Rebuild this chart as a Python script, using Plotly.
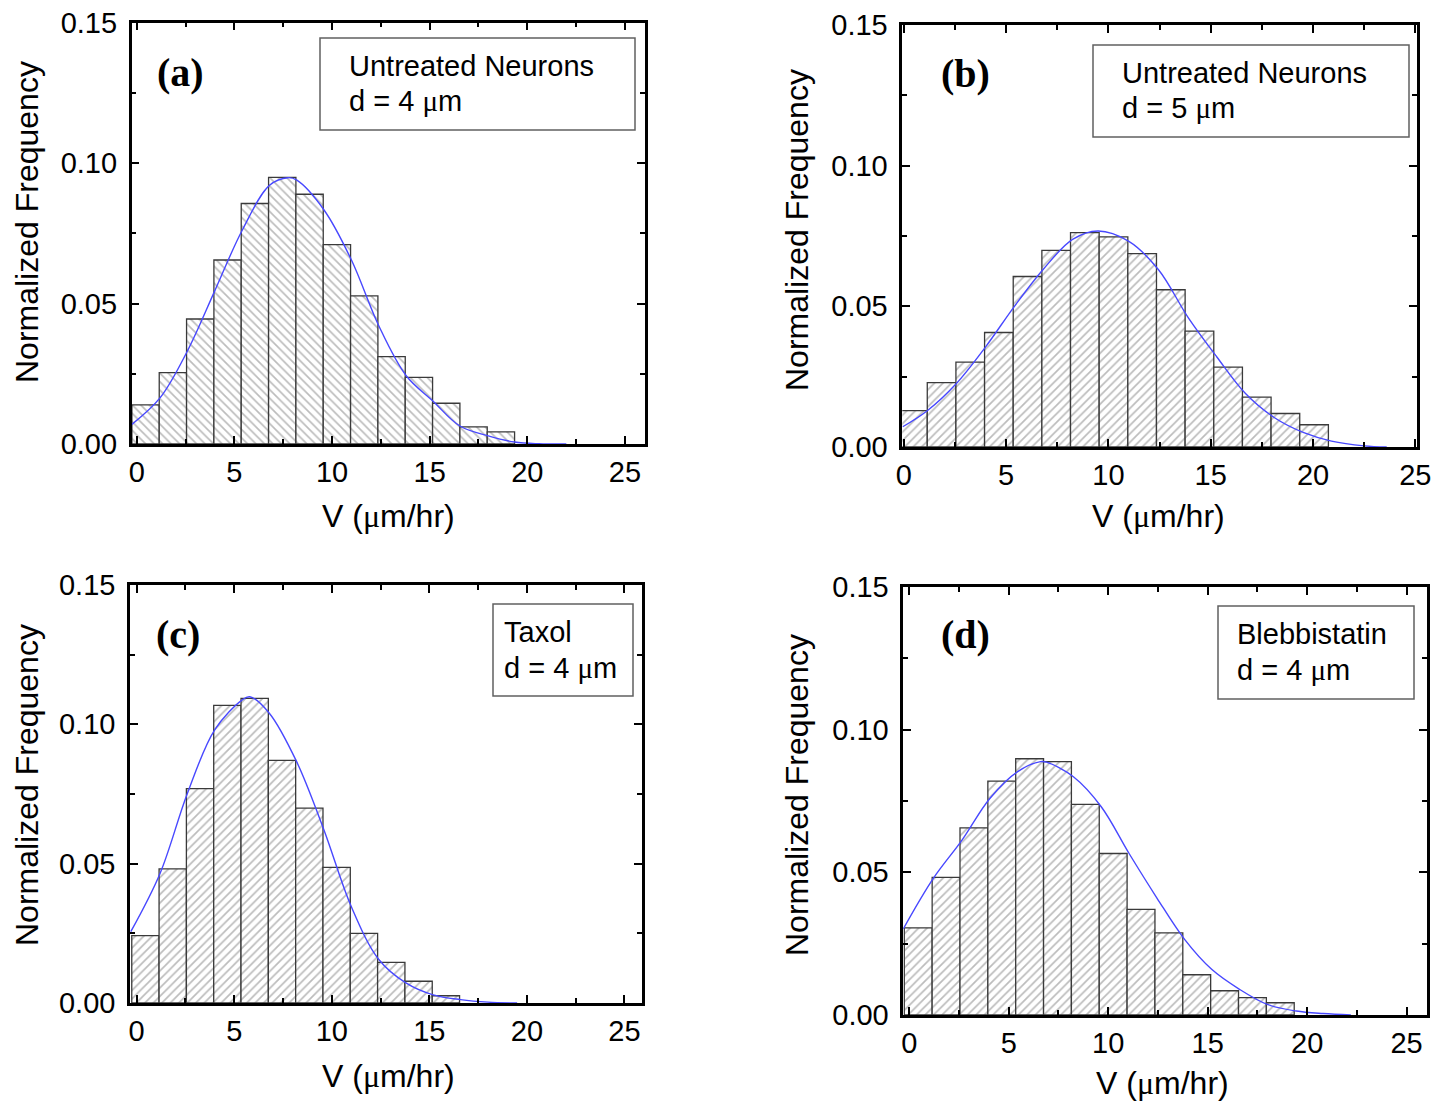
import plotly.graph_objects as go

W, H = 1449, 1101

# ---------------- data ----------------
bin_centers = [0.45, 1.85, 3.25, 4.65, 6.05, 7.45, 8.85, 10.25, 11.65, 13.05, 14.45, 15.85, 17.25, 18.65, 20.05]
bin_width = 1.4

freq_a = [0.0139, 0.0254, 0.0445, 0.0655, 0.0856, 0.0949, 0.0889, 0.0710, 0.0527, 0.0311, 0.0237, 0.0145, 0.0061, 0.0043]
freq_b = [0.0129, 0.0229, 0.0302, 0.0407, 0.0606, 0.0699, 0.0762, 0.0747, 0.0687, 0.0559, 0.0412, 0.0284, 0.0177, 0.0119, 0.0079]
freq_c = [0.0242, 0.0481, 0.0769, 0.1068, 0.1093, 0.0871, 0.0699, 0.0487, 0.0250, 0.0146, 0.0078, 0.0026]
freq_d = [0.0305, 0.0482, 0.0656, 0.0820, 0.0898, 0.0888, 0.0738, 0.0566, 0.0370, 0.0288, 0.0141, 0.0085, 0.0061, 0.0043]

fit_a_x = [-0.25, 1.2, 2.6, 4.0, 5.4, 6.8, 7.75, 8.2, 9.6, 11.0, 12.4, 13.8, 15.15, 16.55, 18.0, 19.35, 20.6, 22.0]
fit_a_y = [0.0070, 0.0165, 0.0332, 0.0546, 0.0761, 0.0921, 0.0948, 0.0939, 0.0832, 0.0654, 0.0420, 0.0243, 0.0154, 0.0064, 0.0029, 0.0007, 0.0001, 0.0]

fit_b_x = [-0.05, 1.15, 2.55, 4.0, 5.4, 6.8, 8.25, 9.5, 11.0, 12.45, 13.9, 15.3, 16.7, 18.1, 19.55, 20.9, 22.5, 23.6]
fit_b_y = [0.0072, 0.0129, 0.0224, 0.0356, 0.0499, 0.0630, 0.0738, 0.0768, 0.0731, 0.0630, 0.0460, 0.0320, 0.0190, 0.0105, 0.0051, 0.0021, 0.0004, 0.0]

fit_c_x = [-0.3, 1.2, 2.6, 4.0, 5.4, 5.8, 6.8, 8.2, 9.6, 11.0, 12.4, 13.8, 15.2, 16.6, 18.0, 19.5]
fit_c_y = [0.0256, 0.0465, 0.0752, 0.0980, 0.1087, 0.1099, 0.1040, 0.0866, 0.0621, 0.0346, 0.0157, 0.0072, 0.0029, 0.0012, 0.0003, 0.0]

fit_d_x = [-0.3, 1.2, 2.65, 4.05, 5.45, 6.6, 6.9, 8.25, 9.65, 11.05, 12.45, 13.85, 15.2, 16.6, 18.0, 19.45, 20.8, 22.2]
fit_d_y = [0.0302, 0.0478, 0.0613, 0.0759, 0.0853, 0.0888, 0.0886, 0.0835, 0.0730, 0.0566, 0.0410, 0.0264, 0.0160, 0.0090, 0.0037, 0.0014, 0.0005, 0.0]

panel_labels = ["(a)", "(b)", "(c)", "(d)"]
legend_line1 = ["Untreated Neurons", "Untreated Neurons", "Taxol", "Blebbistatin"]
legend_line2 = ["d = 4 μm", "d = 5 μm", "d = 4 μm", "d = 4 μm"]
x_title = "V (μm/hr)"
y_title = "Normalized Frequency"

# ---------------- layout geometry (pixels) ----------------
panels = [
    dict(freq=freq_a, fx=fit_a_x, fy=fit_a_y, hatch="\\", xpx=(131.7, 645), ypx=(22.6, 444), xr=[-0.26, 26.03],
         box=(320, 38, 635, 130), txt=(347, 66, 101), lab=(180, 73), yt=(27, 222), xt=(388, 516)),
    dict(freq=freq_b, fx=fit_b_x, fy=fit_b_y, hatch="/", xpx=(902.3, 1417), ypx=(25, 447), xr=[-0.07, 25.08],
         box=(1093, 45, 1409, 137), txt=(1120, 73, 108), lab=(965, 74), yt=(797, 230), xt=(1158, 516)),
    dict(freq=freq_c, fx=fit_c_x, fy=fit_c_y, hatch="/", xpx=(130, 642), ypx=(585, 1003), xr=[-0.34, 25.9],
         box=(493, 604, 633, 696), txt=(502, 632, 668), lab=(178, 634), yt=(27, 785), xt=(388, 1076)),
    dict(freq=freq_d, fx=fit_d_x, fy=fit_d_y, hatch="/", xpx=(903.3, 1426.5), ypx=(587, 1015), xr=[-0.3, 26.0],
         box=(1218, 606, 1414, 699), txt=(1235, 634, 670), lab=(965, 634), yt=(797, 795), xt=(1162, 1083)),
]

def px(x):
    return x / W

def py(y):
    return 1 - y / H

FONT = "Liberation Sans, Arial, sans-serif"
mu_span = '<span style="font-family:Liberation Serif">μ</span>'

fig = go.Figure()
layout = dict(
    width=W, height=H, margin=dict(l=0, r=0, t=0, b=0, pad=0, autoexpand=False),
    paper_bgcolor="white", plot_bgcolor="white", showlegend=False,
    font=dict(family=FONT, color="black"),
)
annotations = []
shapes = []

for i, p in enumerate(panels):
    k = "" if i == 0 else str(i + 1)
    xa, ya = "x" + k, "y" + k
    n = len(p["freq"])
    fig.add_trace(go.Bar(
        x=bin_centers[:n], y=p["freq"], width=bin_width,
        marker=dict(color="white", line=dict(color="#3a3a3a", width=1.3),
                    pattern=dict(shape=p["hatch"], fgcolor="#7a7a7a", bgcolor="white", size=6, solidity=0.28)),
        xaxis=xa, yaxis=ya, hoverinfo="skip",
    ))
    fig.add_trace(go.Scatter(
        x=p["fx"], y=p["fy"], mode="lines",
        line=dict(color="#4848ff", width=1.4, shape="spline", smoothing=1.0),
        xaxis=xa, yaxis=ya, hoverinfo="skip",
    ))
    common = dict(showline=True, linecolor="black", linewidth=2.5, mirror="allticks",
                  ticks="inside", ticklen=8, tickwidth=2, tickcolor="black",
                  showgrid=False, zeroline=False, automargin=False,
                  tickfont=dict(family=FONT, size=29, color="black"))
    layout["xaxis" + k] = dict(common, domain=[px(p["xpx"][0]), px(p["xpx"][1])], anchor=ya,
                               range=p["xr"], tick0=0, dtick=5, ticklabelstandoff=0,
                               minor=dict(dtick=2.5, tick0=0, ticks="inside", ticklen=5, tickwidth=2, tickcolor="black"))
    layout["yaxis" + k] = dict(common, domain=[py(p["ypx"][1]), py(p["ypx"][0])], anchor=xa,
                               range=[0, 0.15], tick0=0, dtick=0.05, tickformat=".2f", ticklabelstandoff=6,
                               minor=dict(dtick=0.025, tick0=0, ticks="inside", ticklen=5, tickwidth=2, tickcolor="black"))
    # legend-like box
    x0, y0, x1, y1 = p["box"]
    shapes.append(dict(type="rect", xref="paper", yref="paper", x0=px(x0), x1=px(x1), y0=py(y1), y1=py(y0),
                       line=dict(color="#606060", width=1.5), fillcolor="white", layer="above"))
    tx, ty1, ty2 = p["txt"]
    annotations.append(dict(xref="paper", yref="paper", x=px(tx), y=py(ty1), xanchor="left", yanchor="middle",
                            text=legend_line1[i], showarrow=False, font=dict(family=FONT, size=29)))
    annotations.append(dict(xref="paper", yref="paper", x=px(tx), y=py(ty2), xanchor="left", yanchor="middle",
                            text=legend_line2[i].replace("μ", mu_span), showarrow=False, font=dict(family=FONT, size=29)))
    # panel label
    lx, ly = p["lab"]
    annotations.append(dict(xref="paper", yref="paper", x=px(lx), y=py(ly), xanchor="center", yanchor="middle",
                            text="<b>" + panel_labels[i] + "</b>", showarrow=False,
                            font=dict(family="Liberation Serif, Times New Roman, serif", size=40)))
    # axis titles
    yx, yy = p["yt"]
    annotations.append(dict(xref="paper", yref="paper", x=px(yx), y=py(yy), xanchor="center", yanchor="middle",
                            text=y_title, textangle=-90, showarrow=False, font=dict(family=FONT, size=32)))
    xx, xy = p["xt"]
    annotations.append(dict(xref="paper", yref="paper", x=px(xx), y=py(xy), xanchor="center", yanchor="middle",
                            text=x_title.replace("μ", mu_span), showarrow=False, font=dict(family=FONT, size=32)))

layout["annotations"] = annotations
layout["shapes"] = shapes
fig.update_layout(**layout)
fig.write_html("out.html")
